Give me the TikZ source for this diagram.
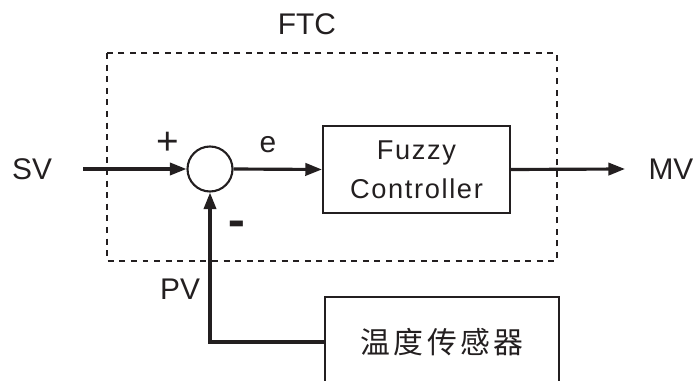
\documentclass[tikz,border=0pt]{standalone}
\usepackage{fontspec}
\setmainfont{Liberation Sans}
\newfontfamily\cjk{Noto Sans CJK SC}
\usetikzlibrary{arrows.meta, positioning}
\definecolor{ink}{HTML}{231F20}
\tikzset{
  font=\fontsize{17}{20}\selectfont,
  >={Triangle[length=9.5pt, width=7pt]},
  %
  block/.style={draw=ink, line width=1.2pt, text=ink, align=center,
                inner sep=0pt},
  junction/.style={draw=ink, line width=1.2pt, circle, minimum size=0.9cm,
                   inner sep=0pt},
  sig/.style={draw=ink, line width=1.8pt, ->},
  frame/.style={draw=ink, line width=1.6pt, dash pattern=on 3.4pt off 3.2pt},
  lbl/.style={text=ink, inner sep=1pt},
}
\begin{document}
\begin{tikzpicture}[x=0.02cm, y=-0.02cm]
  \useasboundingbox (0,0) rectangle (695,381);
  \clip (0,0) rectangle (695,381);

  % controller frame
  \draw[frame] (107,53) rectangle (557,261);
  \node[lbl] (ftc) at (307,24) {FTC};

  % forward path
  \node[junction] (sum) at (210,169) {};
  \node[block, minimum width=3.74cm, minimum height=1.74cm,
        font=\fontsize{15.5}{22}\selectfont\addfontfeatures{LetterSpace=6}]
    (fuzzy) at (416.5,169.5) {Fuzzy\\Controller};
  \node[block, minimum width=4.68cm, minimum height=1.8cm,
        font=\cjk\fontsize{17}{18}\selectfont\addfontfeatures{LetterSpace=12}]
    (sensor) at (442,342) {温度传感器};

  \node[lbl] (sv) at (32,169) {SV};
  \node[lbl] (mv) at (671,169) {MV};
  \coordinate (svend) at (83,169);
  \coordinate (mvend) at (625,169);

  \draw[sig] (svend) -- (sum.west);
  \draw[sig] (sum.east) -- (fuzzy.west);
  \draw[sig] (fuzzy.east) -- (mvend);
  \draw[sig] (sensor.west) -| (sum.south);

  % signs and signal names
  \node[lbl, font=\fontsize{22}{20}\selectfont] (plus) at (168,143) {+};
  \node[lbl] (err) at (268,145) {e};
  \node[lbl, font=\fontsize{15}{20}\selectfont\bfseries] (minus) at (237,230)
    {\scalebox{1}[2.2]{--}};
  \node[lbl] (pv) at (180,289) {PV};
\end{tikzpicture}
\end{document}
